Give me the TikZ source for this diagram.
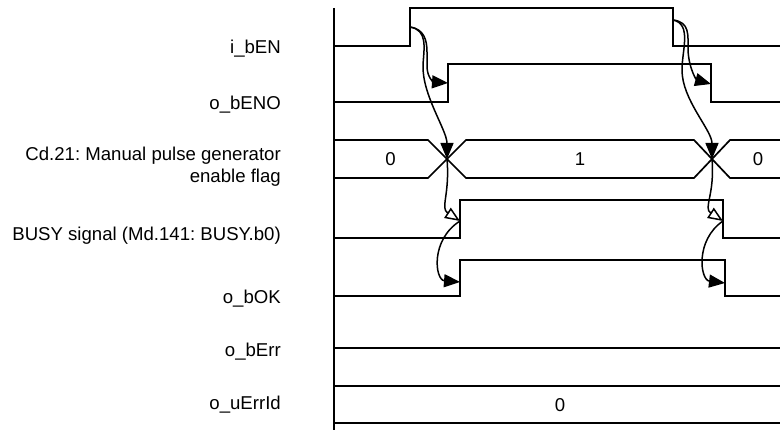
\documentclass[tikz,border=0pt]{standalone}
\usepackage{fontspec}
\setmainfont{Liberation Sans}
\usetikzlibrary{arrows.meta}
\begin{document}
\frenchspacing
\begin{tikzpicture}[x=1pt,y=-1pt,
  wave/.style={line width=1.7pt, line join=miter},
  lbl/.style={font=\fontsize{18.6}{22}\selectfont, inner sep=0pt, anchor=base east},
  val/.style={font=\fontsize{18.6}{22}\selectfont, inner sep=0pt, anchor=base},
  causal/.style={line width=1.5pt, -{Triangle[length=16pt,width=13pt]}},
  causalopen/.style={line width=1.5pt, -{Triangle[open,length=15pt,width=12pt,fill=white]}},
]
\useasboundingbox (0,0) rectangle (780,430);

% labels
\node[lbl] (lEN)   at (281,53.5) {i\_bEN};
\node[lbl] (lENO)  at (281,109.3) {o\_bENO};
\node[lbl] (lCd1)  at (281,160.7) {Cd.21: Manual pulse generator};
\node[lbl] (lCd2)  at (281,182.3) {enable flag};
\node[lbl] (lBUSY) at (281,241) {BUSY signal (Md.141: BUSY.b0)};
\node[lbl] (lOK)   at (281,304) {o\_bOK};
\node[lbl] (lErr)  at (281,356.7) {o\_bErr};
\node[lbl] (lId)   at (281,410) {o\_uErrId};

% time axis
\draw[wave] (334,8) -- (334,430);

% i_bEN
\draw[wave] (334,46) -- (410,46) -- (410,8) -- (673,8) -- (673,46) -- (780,46);
% o_bENO
\draw[wave] (334,102) -- (448,102) -- (448,64) -- (711,64) -- (711,102) -- (780,102);
% Cd.21 bus
\draw[wave] (334,140) -- (428,140) -- (466,178) -- (694,178) -- (730,140) -- (780,140);
\draw[wave] (334,178) -- (428,178) -- (466,140) -- (694,140) -- (730,178) -- (780,178);
\node[val] (v0a) at (390.5,166) {0};
\node[val] (v1)  at (580,166) {1};
\node[val] (v0b) at (758,166) {0};
% BUSY
\draw[wave] (334,238) -- (460,238) -- (460,200) -- (723,200) -- (723,238) -- (780,238);
% o_bOK
\draw[wave] (334,296) -- (460,296) -- (460,260) -- (725,260) -- (725,296) -- (780,296);
% o_bErr
\draw[wave] (334,348) -- (780,348);
% o_uErrId
\draw[wave] (334,386) -- (780,386);
\draw[wave] (334,423) -- (780,423);
\node[val] (v0c) at (560,411.5) {0};

% edge points
\coordinate (enR) at (410,27);
\coordinate (enoR) at (448,83);
\coordinate (xL) at (447,159);
\coordinate (busyR) at (460,221);
\coordinate (okR) at (460,282);
\coordinate (enF) at (673,20);
\coordinate (enoF) at (711,84);
\coordinate (xR) at (712,159);
\coordinate (busyF) at (723,221);
\coordinate (okF) at (725,283);

% causal arrows, left
\draw[causal] (enR) .. controls (424,29) and (427,40) .. (427,52) -- (427,66) .. controls (427,78) and (434,82) .. (enoR);
\draw[causal] (enR) .. controls (428,30) and (424,48) .. (423,65) .. controls (422,95) and (447,130) .. (xL);
\draw[causalopen] (xL) .. controls (450,195) and (440,208) .. (busyR);
\draw[causal] (busyR) .. controls (430,240) and (435,280) .. (okR);

% causal arrows, right
\draw[causal] (enF) .. controls (690,22) and (688,35) .. (688,50) .. controls (689,70) and (697,80) .. (enoF);
\draw[causal] (enF) .. controls (692,24) and (682,50) .. (682,70) .. controls (682,100) and (712,130) .. (xR);
\draw[causalopen] (xR) .. controls (715,195) and (703,208) .. (busyF);
\draw[causal] (busyF) .. controls (695,240) and (700,280) .. (okF);
\end{tikzpicture}
\end{document}
